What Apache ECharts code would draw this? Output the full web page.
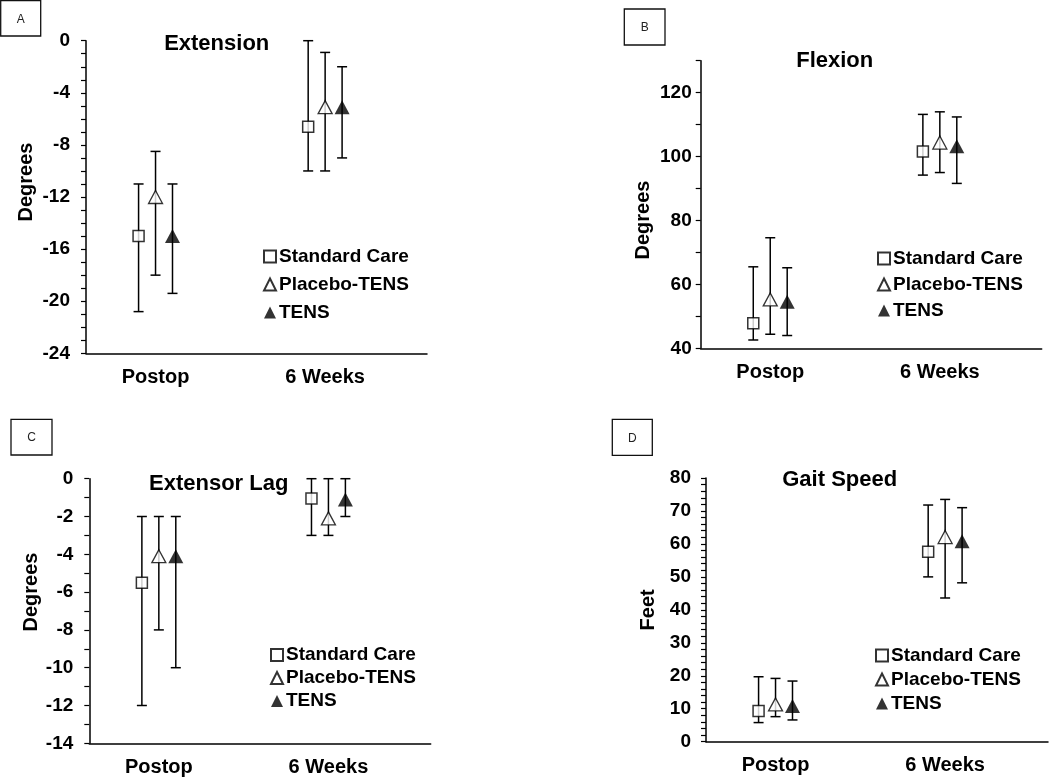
<!DOCTYPE html>
<html>
<head>
<meta charset="utf-8">
<script src="https://cdn.jsdelivr.net/npm/echarts@6/dist/echarts.min.js"></script>
<style>
  html, body { margin: 0; padding: 0; background: #fff; }
  #chart { width: 1050px; height: 779px; }
</style>
</head>
<body>
<div id="chart"></div>
<script>
// categories and groups
const categories = ["Postop", "6 Weeks"];
const groupNames = ["Standard Care", "Placebo-TENS", "TENS"];

// A - Extension (rows: Standard Care, Placebo-TENS, TENS; cols: Postop, 6 Weeks)
const extMean = [[-15, -6.6], [-12, -5.1], [-15, -5.1]];
const extLow = [[-20.8, -10], [-18, -10], [-19.4, -9]];
const extHigh = [[-11, 0], [-8.5, -0.9], [-11, -2]];
const extTicks = [-24, -20, -16, -12, -8, -4, 0];

// B - Flexion
const flexMean = [[47.8, 101.6], [55.3, 104.4], [54.6, 103.2]];
const flexLow = [[42.6, 94.2], [44.4, 95], [44, 91.6]];
const flexHigh = [[65.5, 113.2], [74.6, 114], [65.2, 112.4]];
const flexTicks = [40, 60, 80, 100, 120];

// C - Extensor Lag
const lagMean = [[-5.5, -1.05], [-4.1, -2.1], [-4.1, -1.1]];
const lagLow = [[-12, -3], [-8, -3], [-10, -2]];
const lagHigh = [[-2, 0], [-2, 0], [-2, 0]];
const lagTicks = [-14, -12, -10, -8, -6, -4, -2, 0];

// D - Gait Speed
const gaitMean = [[9.3, 57.6], [11.3, 62.1], [10.8, 60.8]];
const gaitLow = [[5.8, 50], [7.6, 43.6], [6.6, 48.2]];
const gaitHigh = [[19.7, 71.8], [19.2, 73.5], [18.4, 71]];
const gaitTicks = [0, 10, 20, 30, 40, 50, 60, 70, 80];

const FONT = "Liberation Sans, Arial, sans-serif";
const offsets = [-0.1, 0, 0.1];

const panels = [
  { letter: "A", title: "Extension", yName: "Degrees", mean: extMean, low: extLow, high: extHigh, ticks: extTicks,
    min: -24, max: 0, step: 1,
    grid: { left: 86, top: 40.7, width: 341, height: 312.6 },
    titlePos: [216.7, 32.5], box: [0.7, 0.7, 40, 35.3],
    legendPos: [263, 247, 9], labelMargin: 16, nameGap: 50, namePad: [0, 0, 0, 30] },
  { letter: "B", title: "Flexion", yName: "Degrees", mean: flexMean, low: flexLow, high: flexHigh, ticks: flexTicks,
    min: 40, max: 130, step: 10,
    grid: { left: 700.7, top: 60.7, width: 341, height: 287.6 },
    titlePos: [834.7, 50], box: [624.3, 9, 40.7, 36],
    legendPos: [877, 249, 7], labelMargin: 9, nameGap: 47, namePad: [0, 31, 0, 0] },
  { letter: "C", title: "Extensor Lag", yName: "Degrees", mean: lagMean, low: lagLow, high: lagHigh, ticks: lagTicks,
    min: -14, max: 0, step: 1,
    grid: { left: 89.3, top: 478.7, width: 341.4, height: 264.6 },
    titlePos: [218.7, 472.5], box: [11, 419.3, 41, 35.7],
    legendPos: [270, 645.5, 4], labelMargin: 16, nameGap: 36, namePad: [0, 0, 0, 38] },
  { letter: "D", title: "Gait Speed", yName: "Feet", mean: gaitMean, low: gaitLow, high: gaitHigh, ticks: gaitTicks,
    min: 0, max: 80, step: 2,
    grid: { left: 706, top: 478, width: 342, height: 263.7 },
    titlePos: [839.7, 469], box: [612.3, 419.3, 40, 36],
    legendPos: [875, 646, 5], labelMargin: 15, nameGap: 48, namePad: [0, 0, 0, 0] },
];

const groupStyles = [
  { symbol: "rect", symbolSize: 11, itemStyle: { color: "#fff", borderColor: "#000", borderWidth: 1.5 } },
  { symbol: "triangle", symbolSize: [14, 13], itemStyle: { color: "#fff", borderColor: "#000", borderWidth: 1.3 } },
  { symbol: "triangle", symbolSize: [15, 14], itemStyle: { color: "#000", borderColor: "#000", borderWidth: 0 } },
];

function errorBar(params, api) {
  const x = api.value(0);
  const top = api.coord([x, api.value(2)]);
  const bot = api.coord([x, api.value(1)]);
  const w = 5;
  const style = { stroke: "#000", lineWidth: 1.5 };
  return {
    type: "group",
    children: [
      { type: "line", shape: { x1: top[0], y1: top[1], x2: bot[0], y2: bot[1] }, style },
      { type: "line", shape: { x1: top[0] - w, y1: top[1], x2: top[0] + w, y2: top[1] }, style },
      { type: "line", shape: { x1: bot[0] - w, y1: bot[1], x2: bot[0] + w, y2: bot[1] }, style },
    ],
  };
}

const grid = [], xAxis = [], yAxis = [], series = [], title = [], legend = [], graphic = [];

panels.forEach((p, i) => {
  grid.push(p.grid);
  xAxis.push({
    type: "value", gridIndex: i, min: 0.59, max: 0.59 + p.grid.width / 169.6,
    splitLine: { show: false }, axisTick: { show: false },
    axisLine: { onZero: false, lineStyle: { color: "#000", width: 1.5 } },
    axisLabel: {
      customValues: [1, 2], margin: 14,
      formatter: (v) => categories[Math.round(v) - 1],
      color: "#000", fontFamily: FONT, fontWeight: "bold", fontSize: 20,
    },
  });
  yAxis.push({
    type: "value", gridIndex: i, min: p.min, max: p.max, interval: p.step,
    name: p.yName, nameLocation: "middle", nameGap: p.nameGap,
    nameTextStyle: { color: "#000", fontFamily: FONT, fontWeight: "bold", fontSize: 20, padding: p.namePad },
    splitLine: { show: false },
    axisLine: { show: true, onZero: false, lineStyle: { color: "#000", width: 1.5 } },
    axisTick: { show: true, length: 5, lineStyle: { color: "#000", width: 1.2 } },
    axisLabel: {
      margin: p.labelMargin, color: "#000", fontFamily: FONT, fontWeight: "bold", fontSize: 19,
      formatter: (v) => (p.ticks.includes(v) ? String(v) : ""),
    },
  });
  title.push({
    text: p.title, left: p.titlePos[0], top: p.titlePos[1], textAlign: "center", padding: 0,
    textStyle: { color: "#000", fontFamily: FONT, fontWeight: "bold", fontSize: 22 },
  });
  legend.push({
    orient: "vertical", left: p.legendPos[0], top: p.legendPos[1], itemGap: p.legendPos[2],
    itemWidth: 12, itemHeight: 12, padding: 0, selectedMode: false,
    data: groupNames,
    textStyle: { color: "#000", fontFamily: FONT, fontWeight: "bold", fontSize: 19, padding: [0, 0, 0, -2] },
  });

  const barData = [], markData = groupNames.map(() => []);
  groupNames.forEach((g, s) => {
    categories.forEach((c, k) => {
      const x = k + 1 + offsets[s];
      barData.push([x, p.low[s][k], p.high[s][k]]);
      markData[s].push([x, p.mean[s][k]]);
    });
  });
  series.push({
    type: "custom", xAxisIndex: i, yAxisIndex: i, renderItem: errorBar,
    encode: { x: 0, y: [1, 2] }, data: barData, z: 1, silent: true,
  });
  groupNames.forEach((g, s) => {
    series.push(Object.assign({
      type: "scatter", name: g, xAxisIndex: i, yAxisIndex: i, data: markData[s], z: 3,
    }, groupStyles[s]));
  });

  graphic.push({
    type: "rect", shape: { x: p.box[0], y: p.box[1], width: p.box[2], height: p.box[3] },
    style: { fill: "#fff", stroke: "#111", lineWidth: 1.3 },
  });
  graphic.push({
    type: "text", x: p.box[0] + p.box[2] / 2, y: p.box[1] + p.box[3] / 2 + 1,
    style: { text: p.letter, fill: "#222", font: "12px " + FONT, align: "center", verticalAlign: "middle" },
  });
});

const chart = echarts.init(document.getElementById("chart"));
chart.setOption({
  backgroundColor: "#fff",
  animation: false,
  title, legend, grid, xAxis, yAxis, series, graphic,
});
window.addEventListener("resize", () => chart.resize());
</script>
</body>
</html>
